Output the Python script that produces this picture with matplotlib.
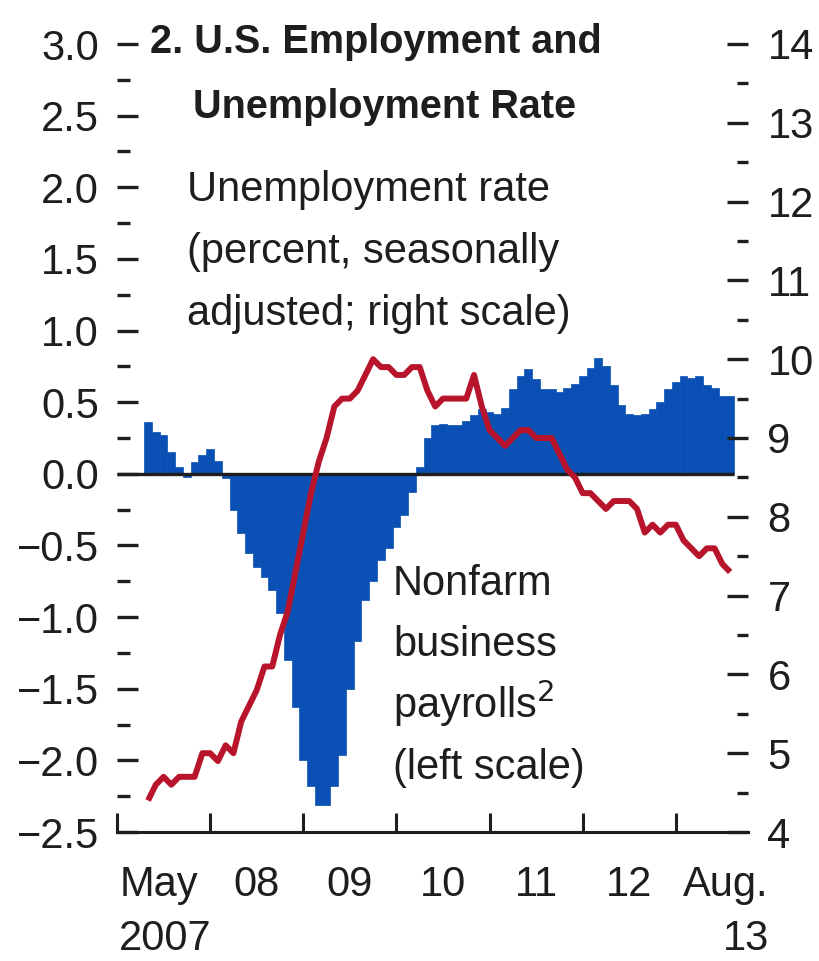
import numpy as np
import matplotlib.pyplot as plt
import matplotlib.transforms as mtransforms
from matplotlib.ticker import MultipleLocator

plt.rcParams['font.family'] = ['Liberation Sans Narrow', 'Liberation Sans', 'DejaVu Sans']

# monthly, May 2007 - Aug 2013
payrolls = [0.36, 0.29, 0.27, 0.15, 0.05, -0.02, 0.08, 0.13, 0.17, 0.09,
            -0.03, -0.25, -0.41, -0.55, -0.65, -0.72, -0.81, -0.97, -1.30, -1.63,
            -2.00, -2.18, -2.31, -2.31, -2.18, -1.96, -1.50, -1.17, -0.88, -0.75,
            -0.60, -0.52, -0.37, -0.29, -0.13, 0.05, 0.25, 0.34, 0.35, 0.34,
            0.34, 0.37, 0.41, 0.45, 0.43, 0.42, 0.46, 0.59, 0.68, 0.73,
            0.66, 0.59, 0.59, 0.57, 0.60, 0.63, 0.68, 0.74, 0.81, 0.75,
            0.62, 0.48, 0.42, 0.41, 0.42, 0.45, 0.50, 0.59, 0.64, 0.68,
            0.67, 0.68, 0.62, 0.60, 0.54, 0.54]
unemployment = [4.4, 4.6, 4.7, 4.6, 4.7, 4.7, 4.7, 5.0, 5.0, 4.9,
                5.1, 5.0, 5.4, 5.6, 5.8, 6.1, 6.1, 6.5, 6.8, 7.3,
                7.8, 8.3, 8.7, 9.0, 9.4, 9.5, 9.5, 9.6, 9.8, 10.0,
                9.9, 9.9, 9.8, 9.8, 9.9, 9.9, 9.6, 9.4, 9.5, 9.5,
                9.5, 9.5, 9.8, 9.4, 9.1, 9.0, 8.9, 9.0, 9.1, 9.1,
                9.0, 9.0, 9.0, 8.8, 8.6, 8.5, 8.3, 8.3, 8.2, 8.1,
                8.2, 8.2, 8.2, 8.1, 7.8, 7.9, 7.8, 7.9, 7.9, 7.7,
                7.6, 7.5, 7.6, 7.6, 7.4, 7.3]
year_labels = ['08', '09', '10', '11', '12']

blue = '#0a50b4'
red = '#b8152d'
ink = '#1e1e1e'
fs = 30

n = len(payrolls)
x = np.arange(n)
jan = np.arange(-4, n, 12)  # January of each year (May 2007 = 0)

fig = plt.figure(figsize=(8.2, 9.61), dpi=100)
ax = fig.add_axes([117 / 820, 1 - 832 / 961, 631 / 820, 788 / 961])

ax.bar(x, payrolls, width=1.0, color=blue, edgecolor=blue, linewidth=0.5)
ax.hlines(0, jan[0], n - 0.5, color=ink, lw=2.4, zorder=3)
ax.set_xlim(-4, 77.3)
ax.set_ylim(-2.5, 3.0)

for s in ['top', 'left', 'right']:
    ax.spines[s].set_visible(False)
ax.spines['bottom'].set_linewidth(2.2)
ax.spines['bottom'].set_color(ink)

ax.yaxis.set_major_locator(MultipleLocator(0.5))
ax.yaxis.set_minor_locator(MultipleLocator(0.25))
ax.tick_params(axis='y', which='major', direction='in', length=15, width=2.4,
               color=ink, labelsize=fs, labelcolor=ink, pad=13)
ax.tick_params(axis='y', which='minor', direction='in', length=9, width=2.4, color=ink)
ax.set_xticks(jan)
ax.tick_params(axis='x', which='major', direction='in', length=14, width=2.2,
               color=ink, labelbottom=False)

ax2 = ax.twinx()
ax2.plot(x, unemployment, color=red, lw=4.3, solid_joinstyle='round', solid_capstyle='butt')
ax2.set_ylim(4, 14)
for s in ax2.spines.values():
    s.set_visible(False)
ax2.yaxis.set_major_locator(MultipleLocator(1))
ax2.yaxis.set_minor_locator(MultipleLocator(0.5))
ax2.tick_params(axis='y', which='major', direction='in', length=15, width=2.4,
                color=ink, labelsize=fs, labelcolor=ink, pad=14)
ax2.tick_params(axis='y', which='minor', direction='in', length=8, width=2.4, color=ink)

# x labels
trans = mtransforms.blended_transform_factory(ax.transData, ax.transAxes)
row1 = (832 - 896) / 788
row2 = (832 - 950) / 788
ax.text(jan[0] + 0.3, row1, 'May', transform=trans, ha='left', va='baseline', fontsize=fs, color=ink)
ax.text(jan[0] + 0.3, row2, '2007', transform=trans, ha='left', va='baseline', fontsize=fs, color=ink)
for j, lab in zip(jan[1:] + 6, year_labels):
    ax.text(j, row1, lab, transform=trans, ha='center', va='baseline', fontsize=fs, color=ink)
ax.text(1.033, row1, 'Aug.', transform=ax.transAxes, ha='right', va='baseline', fontsize=fs, color=ink)
ax.text(1.033, row2, '13', transform=ax.transAxes, ha='right', va='baseline', fontsize=fs, color=ink)

# title and annotations (pixel positions converted to axes fraction)
def px(xp, yp):
    return (xp - 117) / 631, (832 - yp) / 788

tx, ty = px(150, 53)
ax.text(tx, ty, '2. U.S. Employment and', transform=ax.transAxes, fontsize=28.5,
        fontweight='bold', color=ink, va='baseline')
tx, ty = px(193, 118)
ax.text(tx, ty, 'Unemployment Rate', transform=ax.transAxes, fontsize=28.5,
        fontweight='bold', color=ink, va='baseline')

for k, line in enumerate(['Unemployment rate', '(percent, seasonally', 'adjusted; right scale)']):
    tx, ty = px(187, 201 + 62 * k)
    ax.text(tx, ty, line, transform=ax.transAxes, fontsize=fs, color=ink, va='baseline')

for k, line in enumerate(['Nonfarm', 'business', 'payrolls$^{2}$', '(left scale)']):
    tx, ty = px(393, 595 + 61.5 * k)
    ax.text(tx, ty, line, transform=ax.transAxes, fontsize=fs, color=ink, va='baseline')

fig.savefig('out.png', dpi=100)
